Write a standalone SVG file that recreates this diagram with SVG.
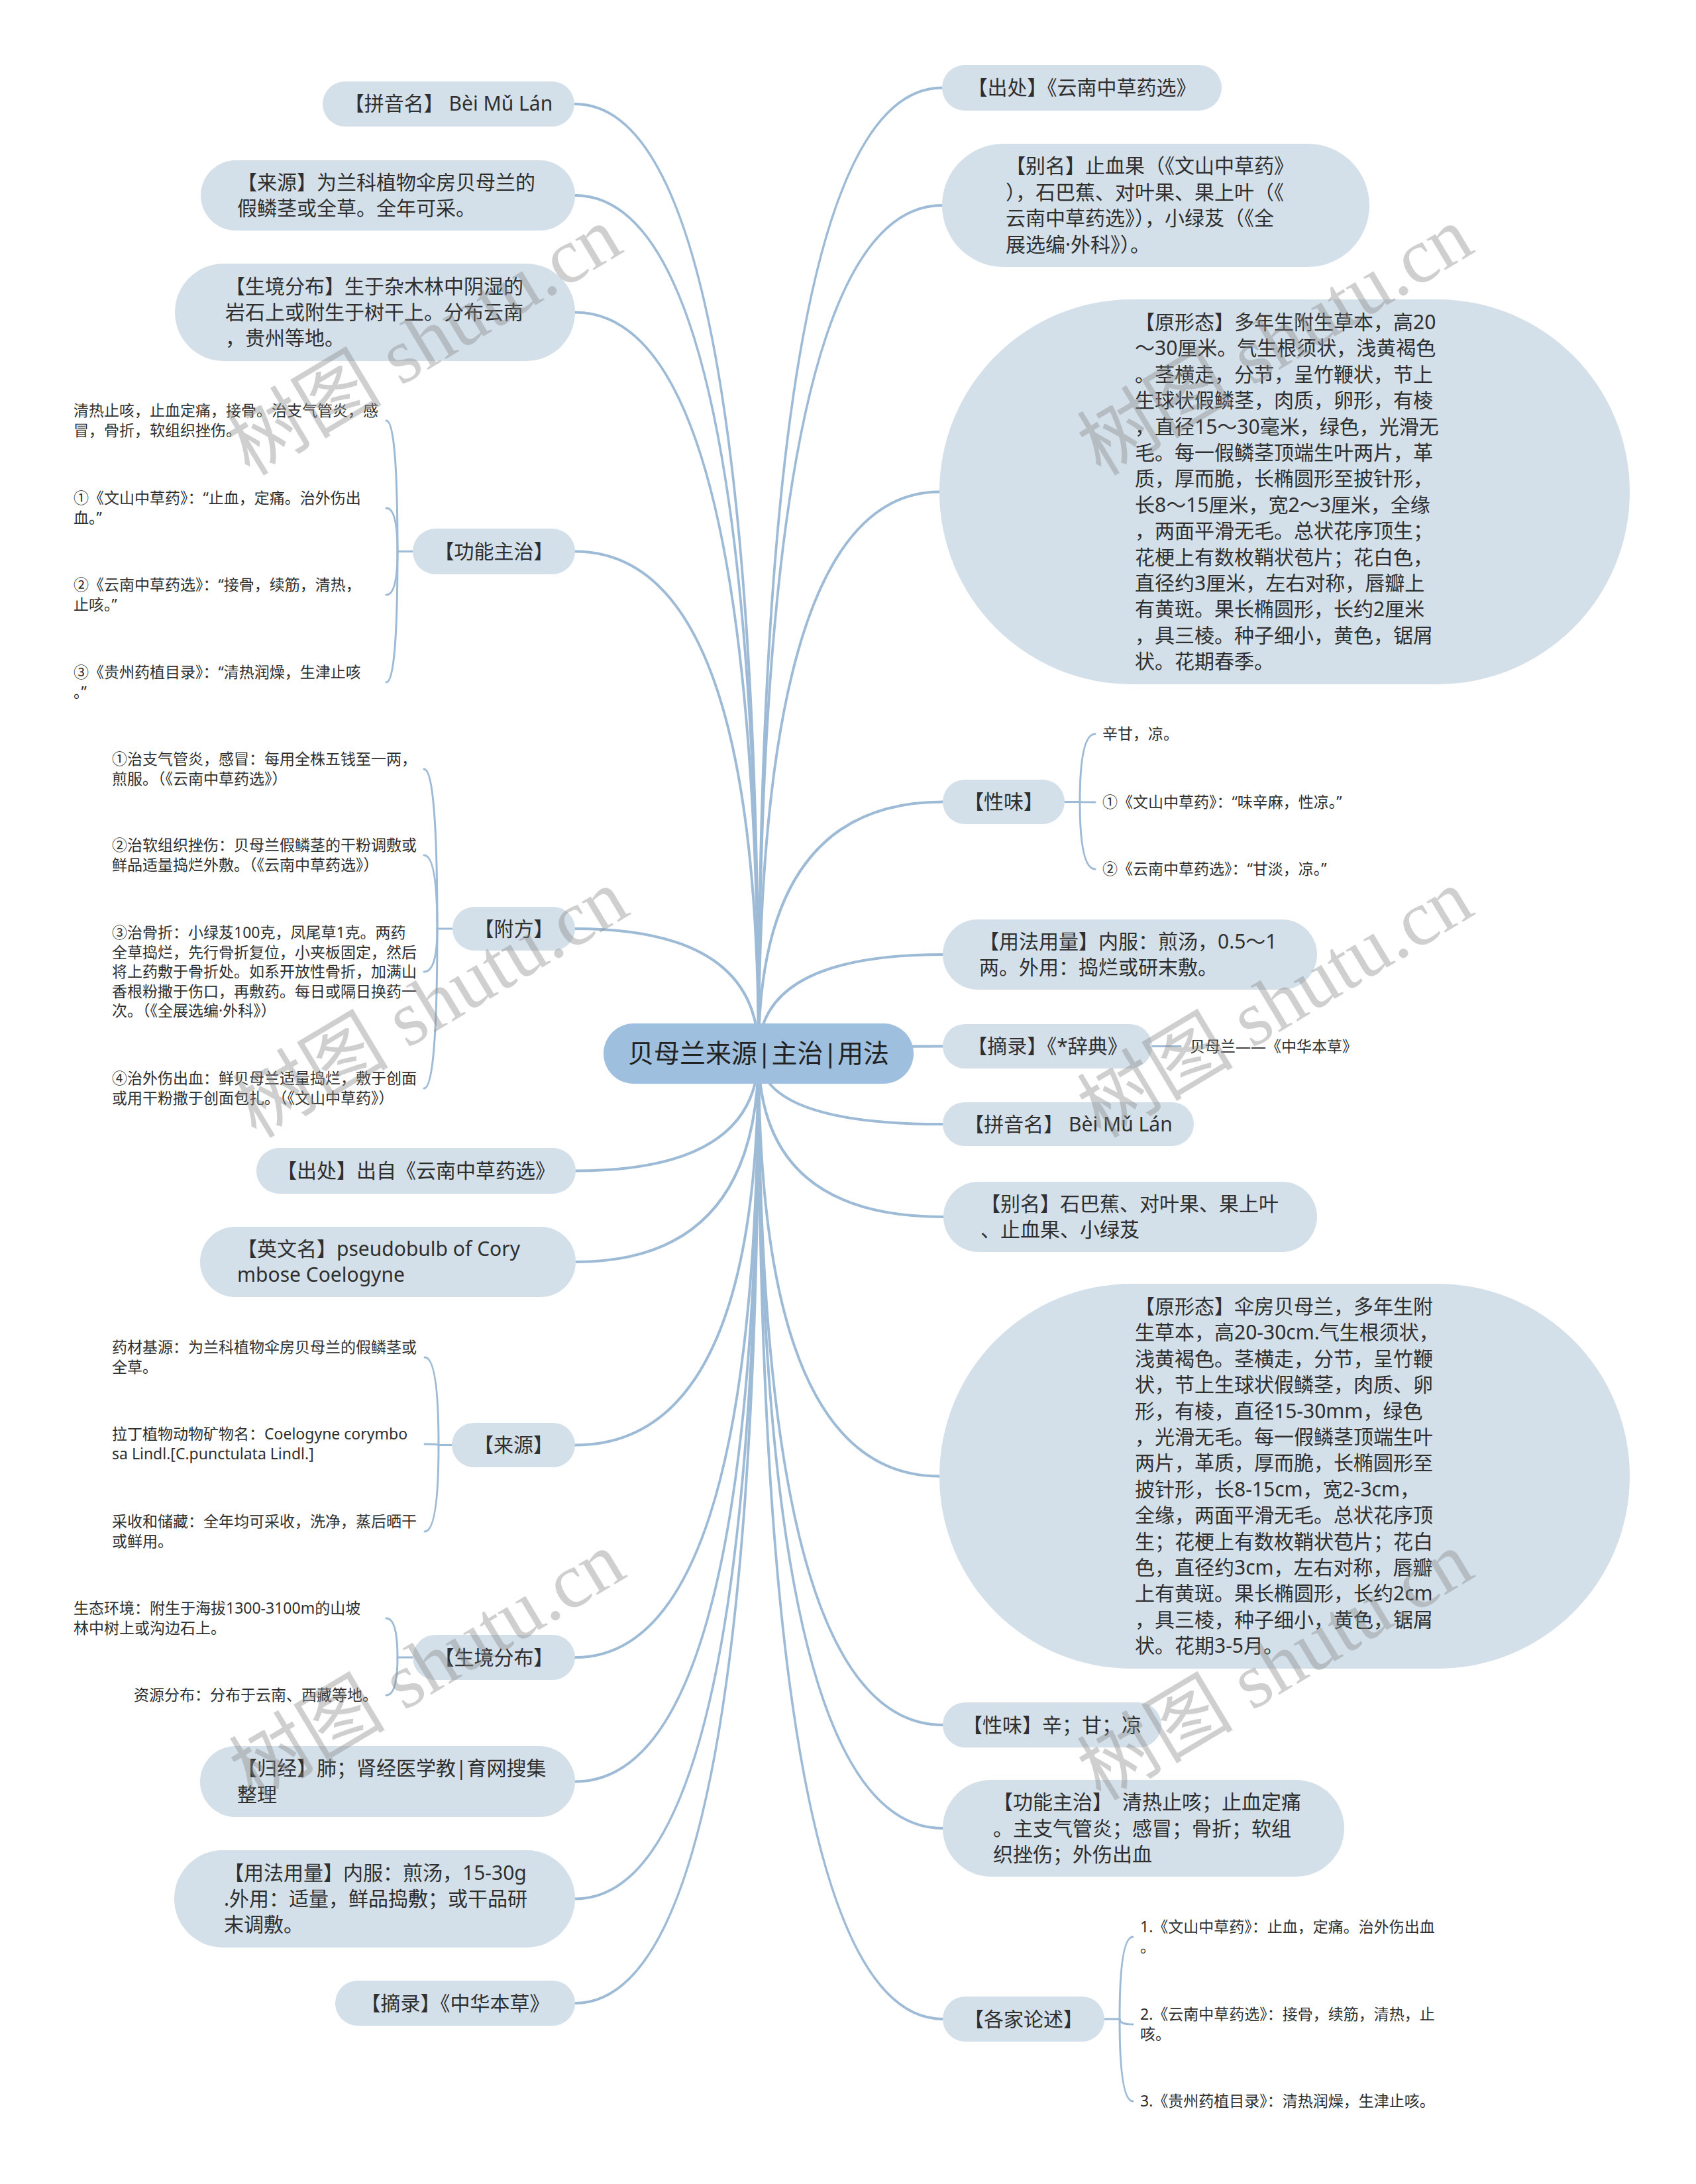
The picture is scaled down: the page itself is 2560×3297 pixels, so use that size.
<svg xmlns="http://www.w3.org/2000/svg" width="2560" height="3297" viewBox="0 0 2560 3297">
<defs>
<style>
.bg{fill:#ffffff}
.n{fill:#d3dfe9}
.root{fill:#9ebfdd}
.t{font-family:"Noto Sans","Noto Sans CJK SC",sans-serif;font-size:30px;fill:#2f2f2f}
.tm{text-anchor:middle}
.rt{font-family:"Noto Sans","Noto Sans CJK SC",sans-serif;font-size:39px;fill:#222;text-anchor:middle}
.c{font-family:"Noto Sans","Noto Sans CJK SC",sans-serif;font-size:23px;fill:#2f2f2f}
.l{fill:none;stroke:#9dbbd6;stroke-width:4;stroke-linecap:round}
.s{fill:none;stroke:#9dbbd6;stroke-width:3;stroke-linecap:round}
.wm{font-family:"Liberation Serif","Noto Sans CJK SC",serif;font-size:118px;fill:#8a8a8a;opacity:0.4;text-anchor:middle}
</style>
</defs>
<rect class="bg" x="0" y="0" width="2560" height="3297"/>

<g id="connectors">
<path class="l" d="M1145 1590 Q1145 157 868 157"/>
<path class="l" d="M1145 1590 Q1145 295 868 295"/>
<path class="l" d="M1145 1590 Q1145 471.5 868 471.5"/>
<path class="l" d="M1145 1590 Q1145 832.5 868 832.5"/>
<path class="l" d="M1145 1590 Q1145 1402 868 1402"/>
<path class="l" d="M1145 1590 Q1145 1767.5 869 1767.5"/>
<path class="l" d="M1145 1590 Q1145 1905 869 1905"/>
<path class="l" d="M1145 1590 Q1145 2181.5 868 2181.5"/>
<path class="l" d="M1145 1590 Q1145 2502 868 2502"/>
<path class="l" d="M1145 1590 Q1145 2689.5 868 2689.5"/>
<path class="l" d="M1145 1590 Q1145 2866.5 868 2866.5"/>
<path class="l" d="M1145 1590 Q1145 3024 868 3024"/>
<path class="l" d="M1145 1590 Q1145 132.5 1422 132.5"/>
<path class="l" d="M1145 1590 Q1145 310 1422 310"/>
<path class="l" d="M1145 1590 Q1145 742.5 1418 742.5"/>
<path class="l" d="M1145 1590 Q1145 1210.5 1423 1210.5"/>
<path class="l" d="M1145 1590 Q1145 1441 1423 1441"/>
<path class="l" d="M1145 1590 Q1145 1579.5 1423 1579.5"/>
<path class="l" d="M1145 1590 Q1145 1697 1423 1697"/>
<path class="l" d="M1145 1590 Q1145 1837 1424 1837"/>
<path class="l" d="M1145 1590 Q1145 2228.5 1418 2228.5"/>
<path class="l" d="M1145 1590 Q1145 2604 1423 2604"/>
<path class="l" d="M1145 1590 Q1145 2760 1423 2760"/>
<path class="l" d="M1145 1590 Q1145 3048 1423 3048"/>
<!-- 功能主治 children -->
<path class="s" d="M623 832.5 H600"/>
<path class="s" d="M600 832.5 Q600 635 583 635"/>
<path class="s" d="M600 832.5 Q600 767 583 767"/>
<path class="s" d="M600 832.5 Q600 898 583 898"/>
<path class="s" d="M600 832.5 Q600 1030 583 1030"/>
<!-- 附方 children -->
<path class="s" d="M683 1402 H660"/>
<path class="s" d="M660 1402 Q660 1161 640 1161"/>
<path class="s" d="M660 1402 Q660 1291 640 1291"/>
<path class="s" d="M660 1402 Q660 1467 640 1467"/>
<path class="s" d="M660 1402 Q660 1643 640 1643"/>
<!-- 来源 children -->
<path class="s" d="M682 2181.5 H662"/>
<path class="s" d="M662 2181.5 Q662 2049 641 2049"/>
<path class="s" d="M662 2181.5 Q662 2180 641 2180"/>
<path class="s" d="M662 2181.5 Q662 2312 641 2312"/>
<!-- 生境分布 children -->
<path class="s" d="M623 2502 H600"/>
<path class="s" d="M600 2502 Q600 2443 583 2443"/>
<path class="s" d="M600 2502 Q600 2559 583 2559"/>
<!-- 性味 children -->
<path class="s" d="M1607 1210.5 H1630"/>
<path class="s" d="M1630 1210.5 Q1630 1108 1653 1108"/>
<path class="s" d="M1630 1210.5 Q1630 1211 1653 1211"/>
<path class="s" d="M1630 1210.5 Q1630 1312 1653 1312"/>
<!-- 摘录 child -->
<path class="s" d="M1739 1579.5 H1782"/>
<!-- 各家论述 children -->
<path class="s" d="M1667 3048 H1690"/>
<path class="s" d="M1690 3048 Q1690 2924 1710 2924"/>
<path class="s" d="M1690 3048 Q1690 3056 1710 3056"/>
<path class="s" d="M1690 3048 Q1690 3172 1710 3172"/>
</g>

<g id="root">
<rect class="root" x="911" y="1545" width="468" height="91" rx="45.5"/>
<text class="rt" x="1145" y="1604">贝母兰来源|主治|用法</text>
</g>

<g id="L1"><rect class="n" x="487" y="123" width="380" height="68" rx="34"/>
<text class="t tm" x="677" y="167">【拼音名】 Bèi Mǔ Lán</text></g>

<g id="L2"><rect class="n" x="303" y="242" width="565" height="106" rx="53"/>
<text class="t" y="285.8"><tspan x="358">【来源】为兰科植物伞房贝母兰的</tspan><tspan x="358" dy="39.4">假鳞茎或全草。全年可采。</tspan></text></g>

<g id="L3"><rect class="n" x="264" y="398" width="604" height="147" rx="73.5"/>
<text class="t" y="442.6"><tspan x="340">【生境分布】生于杂木林中阴湿的</tspan><tspan x="340" dy="39.4">岩石上或附生于树干上。分布云南</tspan><tspan x="340" dy="39.4">，贵州等地。</tspan></text></g>

<g id="L4"><rect class="n" x="623" y="798" width="245" height="69" rx="34.5"/>
<text class="t tm" x="745.5" y="843">【功能主治】</text></g>
<g id="L4c">
<text class="c" y="628.25"><tspan x="111">清热止咳，止血定痛，接骨。治支气管炎，感</tspan><tspan x="111" dy="29.5">冒，骨折，软组织挫伤。</tspan></text>
<text class="c" y="760.25"><tspan x="111">①《文山中草药》：“止血，定痛。治外伤出</tspan><tspan x="111" dy="29.5">血。”</tspan></text>
<text class="c" y="891.25"><tspan x="111">②《云南中草药选》：“接骨，续筋，清热，</tspan><tspan x="111" dy="29.5">止咳。”</tspan></text>
<text class="c" y="1023.25"><tspan x="111">③《贵州药植目录》：“清热润燥，生津止咳</tspan><tspan x="111" dy="29.5">。”</tspan></text>
</g>

<g id="L5"><rect class="n" x="683" y="1369" width="185" height="66" rx="33"/>
<text class="t tm" x="775.5" y="1412.5">【附方】</text></g>
<g id="L5c">
<text class="c" y="1154.25"><tspan x="169">①治支气管炎，感冒：每用全株五钱至一两，</tspan><tspan x="169" dy="29.5">煎服。（《云南中草药选》）</tspan></text>
<text class="c" y="1284.25"><tspan x="169">②治软组织挫伤：贝母兰假鳞茎的干粉调敷或</tspan><tspan x="169" dy="29.5">鲜品适量捣烂外敷。（《云南中草药选》）</tspan></text>
<text class="c" y="1416"><tspan x="169">③治骨折：小绿芨100克，凤尾草1克。两药</tspan><tspan x="169" dy="29.5">全草捣烂，先行骨折复位，小夹板固定，然后</tspan><tspan x="169" dy="29.5">将上药敷于骨折处。如系开放性骨折，加满山</tspan><tspan x="169" dy="29.5">香根粉撒于伤口，再敷药。每日或隔日换药一</tspan><tspan x="169" dy="29.5">次。（《全展选编·外科》）</tspan></text>
<text class="c" y="1636.25"><tspan x="169">④治外伤出血：鲜贝母兰适量捣烂，敷于创面</tspan><tspan x="169" dy="29.5">或用干粉撒于创面包扎。（《文山中草药》）</tspan></text>
</g>

<g id="L6"><rect class="n" x="387" y="1733" width="482" height="69" rx="34.5"/>
<text class="t tm" x="628" y="1778">【出处】出自《云南中草药选》</text></g>

<g id="L7"><rect class="n" x="302" y="1852" width="567" height="106" rx="53"/>
<text class="t" y="1895.8"><tspan x="358">【英文名】pseudobulb of Cory</tspan><tspan x="358" dy="39.4">mbose Coelogyne</tspan></text></g>

<g id="L8"><rect class="n" x="682" y="2148" width="186" height="67" rx="33.5"/>
<text class="t tm" x="775" y="2192">【来源】</text></g>
<g id="L8c">
<text class="c" y="2042.25"><tspan x="169">药材基源：为兰科植物伞房贝母兰的假鳞茎或</tspan><tspan x="169" dy="29.5">全草。</tspan></text>
<text class="c" y="2173.25"><tspan x="169">拉丁植物动物矿物名：Coelogyne corymbo</tspan><tspan x="169" dy="29.5">sa Lindl.[C.punctulata Lindl.]</tspan></text>
<text class="c" y="2305.25"><tspan x="169">采收和储藏：全年均可采收，洗净，蒸后晒干</tspan><tspan x="169" dy="29.5">或鲜用。</tspan></text>
</g>

<g id="L9"><rect class="n" x="623" y="2468" width="245" height="68" rx="34"/>
<text class="t tm" x="745.5" y="2512.5">【生境分布】</text></g>
<g id="L9c">
<text class="c" y="2436.25"><tspan x="111">生态环境：附生于海拔1300-3100m的山坡</tspan><tspan x="111" dy="29.5">林中树上或沟边石上。</tspan></text>
<text class="c" x="202" y="2567">资源分布：分布于云南、西藏等地。</text>
</g>

<g id="L10"><rect class="n" x="302" y="2636" width="566" height="107" rx="53.5"/>
<text class="t" y="2680.3"><tspan x="358">【归经】肺；肾经医学教|育网搜集</tspan><tspan x="358" dy="39.4">整理</tspan></text></g>

<g id="L11"><rect class="n" x="263" y="2793" width="605" height="147" rx="73.5"/>
<text class="t" y="2837.6"><tspan x="338">【用法用量】内服：煎汤，15-30g</tspan><tspan x="338" dy="39.4">.外用：适量，鲜品捣敷；或干品研</tspan><tspan x="338" dy="39.4">末调敷。</tspan></text></g>

<g id="L12"><rect class="n" x="506" y="2990" width="362" height="68" rx="34"/>
<text class="t tm" x="687" y="3034.5">【摘录】《中华本草》</text></g>

<g id="R1"><rect class="n" x="1422" y="98" width="422" height="69" rx="34.5"/>
<text class="t tm" x="1633" y="143">【出处】《云南中草药选》</text></g>

<g id="R2"><rect class="n" x="1422" y="217" width="645" height="186" rx="93"/>
<text class="t" y="261.4"><tspan x="1518">【别名】止血果（《文山中草药》</tspan><tspan x="1518" dy="39.4">），石巴蕉、对叶果、果上叶（《</tspan><tspan x="1518" dy="39.4">云南中草药选》），小绿芨（《全</tspan><tspan x="1518" dy="39.4">展选编·外科》）。</tspan></text></g>

<g id="R3"><rect class="n" x="1418" y="452" width="1042" height="581" rx="290.5"/>
<text class="t" y="497"><tspan x="1713">【原形态】多年生附生草本，高20</tspan><tspan x="1713" dy="39.4">～30厘米。气生根须状，浅黄褐色</tspan><tspan x="1713" dy="39.4">。茎横走，分节，呈竹鞭状，节上</tspan><tspan x="1713" dy="39.4">生球状假鳞茎，肉质，卵形，有棱</tspan><tspan x="1713" dy="39.4">，直径15～30毫米，绿色，光滑无</tspan><tspan x="1713" dy="39.4">毛。每一假鳞茎顶端生叶两片，革</tspan><tspan x="1713" dy="39.4">质，厚而脆，长椭圆形至披针形，</tspan><tspan x="1713" dy="39.4">长8～15厘米，宽2～3厘米，全缘</tspan><tspan x="1713" dy="39.4">，两面平滑无毛。总状花序顶生；</tspan><tspan x="1713" dy="39.4">花梗上有数枚鞘状苞片；花白色，</tspan><tspan x="1713" dy="39.4">直径约3厘米，左右对称，唇瓣上</tspan><tspan x="1713" dy="39.4">有黄斑。果长椭圆形，长约2厘米</tspan><tspan x="1713" dy="39.4">，具三棱。种子细小，黄色，锯屑</tspan><tspan x="1713" dy="39.4">状。花期春季。</tspan></text></g>

<g id="R4"><rect class="n" x="1423" y="1177" width="184" height="67" rx="33.5"/>
<text class="t tm" x="1515" y="1221">【性味】</text></g>
<g id="R4c">
<text class="c" x="1664" y="1116">辛甘，凉。</text>
<text class="c" x="1664" y="1219">①《文山中草药》：“味辛麻，性凉。”</text>
<text class="c" x="1664" y="1320">②《云南中草药选》：“甘淡，凉。”</text>
</g>

<g id="R5"><rect class="n" x="1423" y="1388" width="565" height="106" rx="53"/>
<text class="t" y="1431.8"><tspan x="1478">【用法用量】内服：煎汤，0.5～1</tspan><tspan x="1478" dy="39.4">两。外用：捣烂或研末敷。</tspan></text></g>

<g id="R6"><rect class="n" x="1423" y="1546" width="316" height="67" rx="33.5"/>
<text class="t tm" x="1581" y="1590">【摘录】《*辞典》</text></g>
<g id="R6c"><text class="c" x="1796" y="1587.5">贝母兰——《中华本草》</text></g>

<g id="R7"><rect class="n" x="1423" y="1664" width="379" height="66" rx="33"/>
<text class="t tm" x="1612.5" y="1707.5">【拼音名】 Bèi Mǔ Lán</text></g>

<g id="R8"><rect class="n" x="1424" y="1784" width="564" height="106" rx="53"/>
<text class="t" y="1827.8"><tspan x="1480">【别名】石巴蕉、对叶果、果上叶</tspan><tspan x="1480" dy="39.4">、止血果、小绿芨</tspan></text></g>

<g id="R9"><rect class="n" x="1418" y="1938" width="1042" height="581" rx="290.5"/>
<text class="t" y="1983"><tspan x="1713">【原形态】伞房贝母兰，多年生附</tspan><tspan x="1713" dy="39.4">生草本，高20-30cm.气生根须状，</tspan><tspan x="1713" dy="39.4">浅黄褐色。茎横走，分节，呈竹鞭</tspan><tspan x="1713" dy="39.4">状，节上生球状假鳞茎，肉质、卵</tspan><tspan x="1713" dy="39.4">形，有棱，直径15-30mm，绿色</tspan><tspan x="1713" dy="39.4">，光滑无毛。每一假鳞茎顶端生叶</tspan><tspan x="1713" dy="39.4">两片，革质，厚而脆，长椭圆形至</tspan><tspan x="1713" dy="39.4">披针形，长8-15cm，宽2-3cm，</tspan><tspan x="1713" dy="39.4">全缘，两面平滑无毛。总状花序顶</tspan><tspan x="1713" dy="39.4">生；花梗上有数枚鞘状苞片；花白</tspan><tspan x="1713" dy="39.4">色，直径约3cm，左右对称，唇瓣</tspan><tspan x="1713" dy="39.4">上有黄斑。果长椭圆形，长约2cm</tspan><tspan x="1713" dy="39.4">，具三棱，种子细小，黄色，锯屑</tspan><tspan x="1713" dy="39.4">状。花期3-5月。</tspan></text></g>

<g id="R10"><rect class="n" x="1423" y="2570" width="330" height="68" rx="34"/>
<text class="t tm" x="1588" y="2614.5">【性味】辛；甘；凉</text></g>

<g id="R11"><rect class="n" x="1423" y="2687" width="606" height="146" rx="73"/>
<text class="t" y="2731.1"><tspan x="1499">【功能主治】　清热止咳；止血定痛</tspan><tspan x="1499" dy="39.4">。主支气管炎；感冒；骨折；软组</tspan><tspan x="1499" dy="39.4">织挫伤；外伤出血</tspan></text></g>

<g id="R12"><rect class="n" x="1423" y="3014" width="244" height="68" rx="34"/>
<text class="t tm" x="1545" y="3058.5">【各家论述】</text></g>
<g id="R12c">
<text class="c" y="2917.25"><tspan x="1721">1.《文山中草药》：止血，定痛。治外伤出血</tspan><tspan x="1721" dy="29.5">。</tspan></text>
<text class="c" y="3049.25"><tspan x="1721">2.《云南中草药选》：接骨，续筋，清热，止</tspan><tspan x="1721" dy="29.5">咳。</tspan></text>
<text class="c" x="1721" y="3180">3.《贵州药植目录》：清热润燥，生津止咳。</text>
</g>

<g id="watermarks">
<text class="wm" transform="translate(640 515) rotate(-31)" y="40">树图 shutu.cn</text>
<text class="wm" transform="translate(1925 515) rotate(-31)" y="40">树图 shutu.cn</text>
<text class="wm" transform="translate(650 1515) rotate(-31)" y="40">树图 shutu.cn</text>
<text class="wm" transform="translate(1925 1515) rotate(-31)" y="40">树图 shutu.cn</text>
<text class="wm" transform="translate(645 2515) rotate(-31)" y="40">树图 shutu.cn</text>
<text class="wm" transform="translate(1925 2515) rotate(-31)" y="40">树图 shutu.cn</text>
</g>
</svg>
